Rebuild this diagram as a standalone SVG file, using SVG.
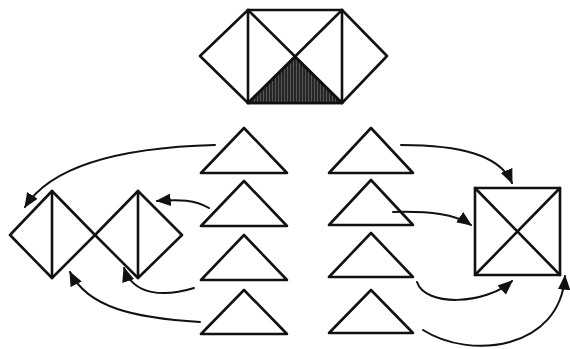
<svg xmlns="http://www.w3.org/2000/svg" width="570" height="349" viewBox="0 0 570 349">
<style>
.s{fill:none;stroke:#111;stroke-width:2.6;stroke-linejoin:round;stroke-linecap:round}
.t{fill:#fff;stroke:#111;stroke-width:2.6;stroke-linejoin:round}
.c{fill:none;stroke:#111;stroke-width:2;stroke-linecap:round}
</style>
<defs>
<pattern id="hatch" width="3" height="6" patternUnits="userSpaceOnUse">
<rect width="3" height="6" fill="#555"/>
<line x1="1" y1="0" x2="1" y2="6" stroke="#111" stroke-width="1.4"/>
</pattern>
<marker id="ah" viewBox="0 0 12 10" refX="11" refY="5" markerWidth="7.5" markerHeight="6.5" orient="auto" markerUnits="strokeWidth">
<path d="M0,0 L12,5 L0,10 Z" fill="#111"/>
</marker>
</defs>
<rect width="570" height="349" fill="#fff"/>
<g id="hexagon">
<polygon class="s" points="200,56 248,10 342,10 387,56 342,103 248,103"/>
<polygon points="248,103 342,103 295,57" fill="url(#hatch)" stroke="#111" stroke-width="2.6" stroke-linejoin="round"/>
<line class="s" x1="248" y1="10" x2="248" y2="103"/>
<line class="s" x1="342" y1="10" x2="342" y2="103"/>
<line class="s" x1="248" y1="10" x2="342" y2="103"/>
<line class="s" x1="342" y1="10" x2="248" y2="103"/>
</g>
<g id="double-diamond">
<polygon class="s" points="10,235 52,191 95,235 52,278"/>
<polygon class="s" points="95,235 138,191 182,235 138,278"/>
<line class="s" x1="52" y1="191" x2="52" y2="278"/>
<line class="s" x1="138" y1="191" x2="138" y2="278"/>
</g>
<g id="square">
<rect class="s" x="475" y="188" width="85" height="87"/>
<line class="s" x1="475" y1="188" x2="560" y2="275"/>
<line class="s" x1="560" y1="188" x2="475" y2="275"/>
</g>
<g id="tri-l1"><polygon class="t" points="244,128 201,173 287,173"/></g>
<g id="tri-l2"><polygon class="t" points="244,181 201,226 287,226"/></g>
<g id="tri-l3"><polygon class="t" points="244,235 201,280 287,280"/></g>
<g id="tri-l4"><polygon class="t" points="244,290 201,334 287,334"/></g>
<g id="tri-r1"><polygon class="t" points="371,128 329,173 413,173"/></g>
<g id="tri-r2"><polygon class="t" points="371,180 329,225 413,225"/></g>
<g id="tri-r3"><polygon class="t" points="371,233 329,277 413,277"/></g>
<g id="tri-r4"><polygon class="t" points="371,290 329,333 413,333"/></g>
<g id="connectors">
<path class="c" d="M215,145 C140,147 55,160 25,207" marker-end="url(#ah)"/>
<path class="c" d="M209,208 C195,200 180,199 157,201" marker-end="url(#ah)"/>
<path class="c" d="M194,288 C165,297 133,296 124,268" marker-end="url(#ah)"/>
<path class="c" d="M200,322 C135,318 88,308 70,272" marker-end="url(#ah)"/>
<path class="c" d="M401,145 C460,145 500,155 512,183" marker-end="url(#ah)"/>
<path class="c" d="M393,212 C430,211 455,214 471,225" marker-end="url(#ah)"/>
<path class="c" d="M417,282 C425,307 485,305 512,281" marker-end="url(#ah)"/>
<path class="c" d="M423,330 C470,360 560,350 565,276" marker-end="url(#ah)"/>
</g>
</svg>
